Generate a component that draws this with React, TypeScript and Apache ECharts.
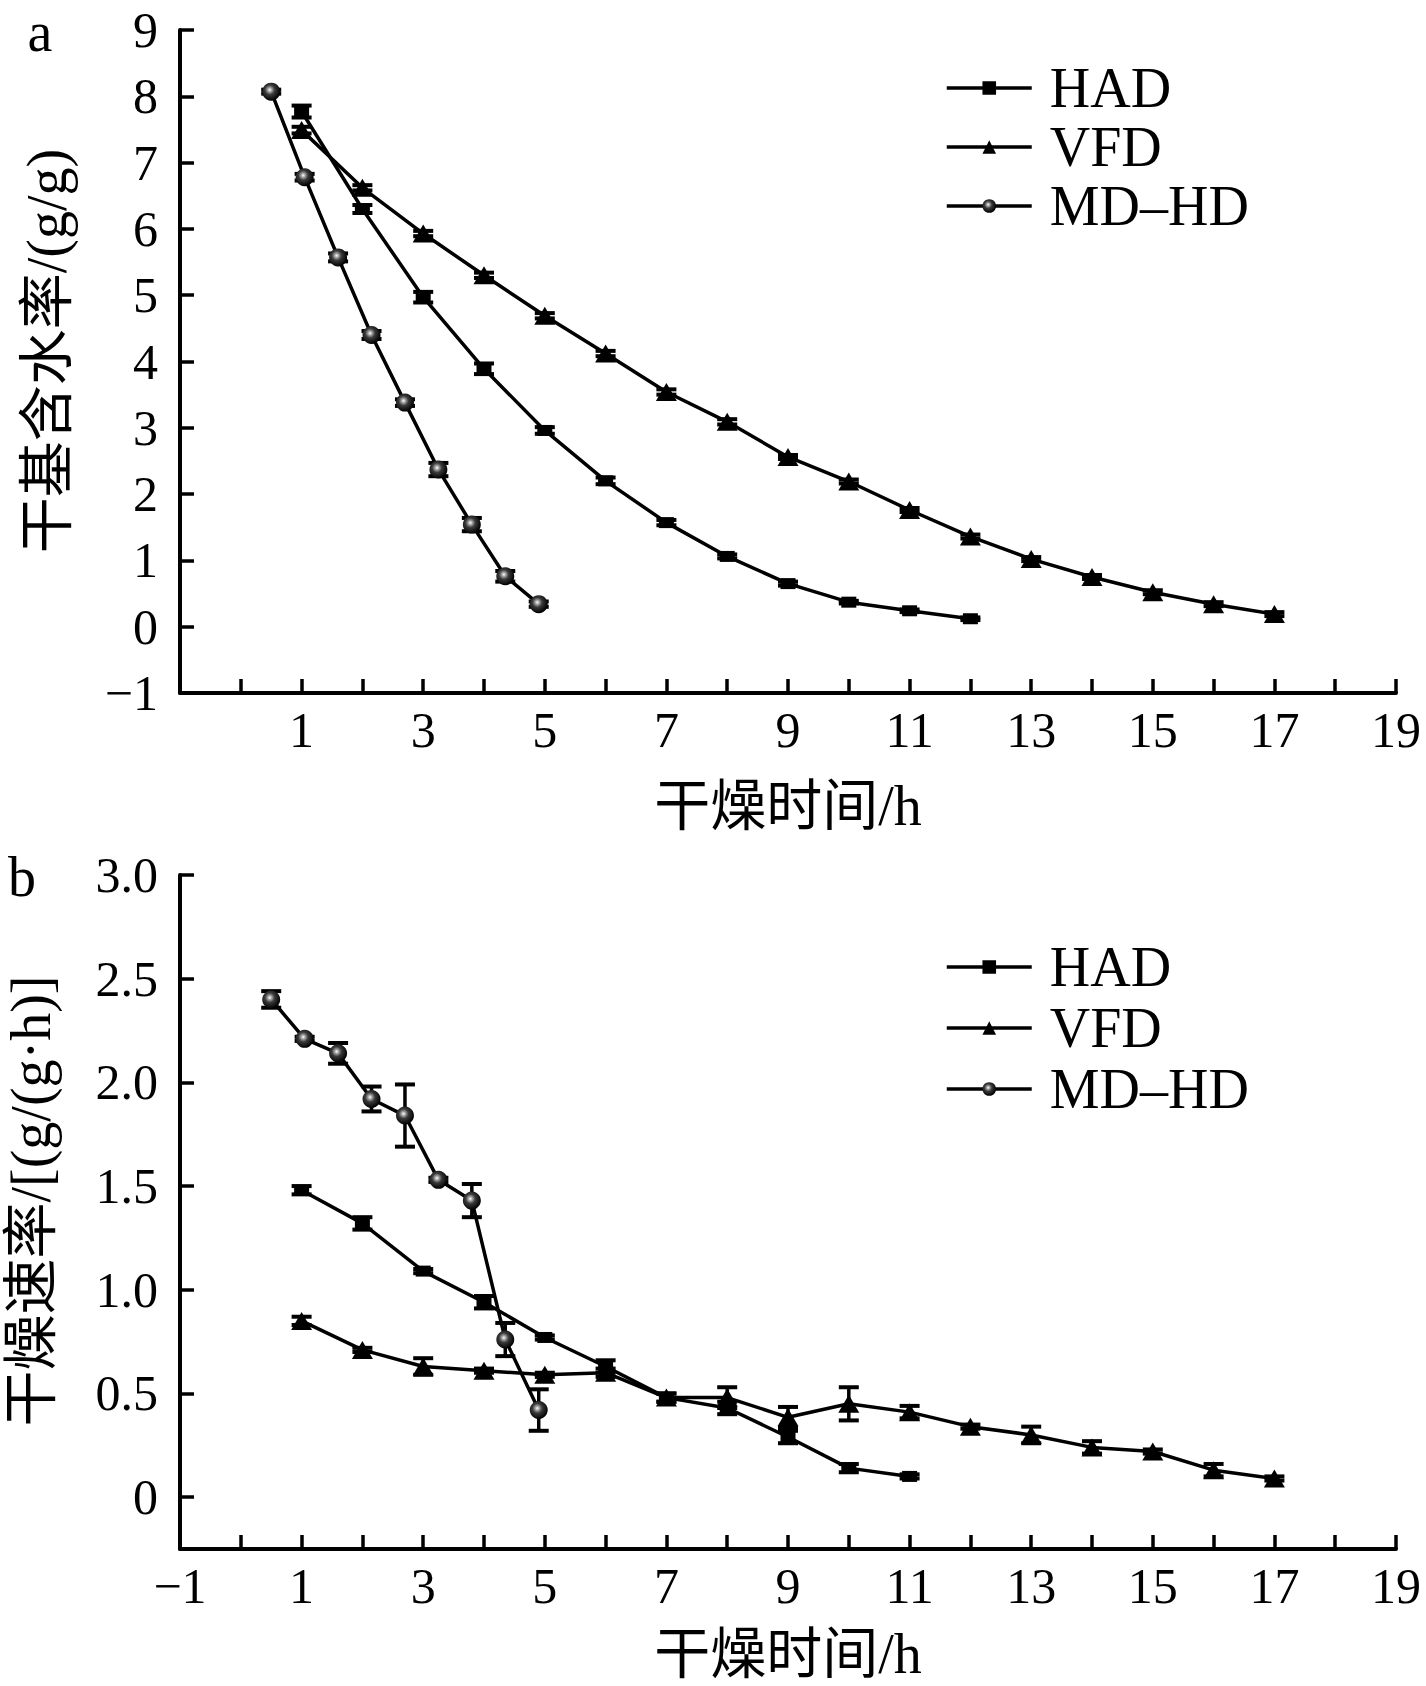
import React, { useEffect, useRef } from 'react';
import * as echarts from 'echarts';

// ---------- data (chart a: dry-basis moisture content, g/g) ----------
const HAD_A_X = [1, 2, 3, 4, 5, 6, 7, 8, 9, 10, 11, 12];
const HAD_A_Y = [7.77, 6.3, 4.97, 3.89, 2.96, 2.2, 1.57, 1.06, 0.65, 0.37, 0.24, 0.12];
const HAD_A_E = [0.09, 0.06, 0.08, 0.08, 0.05, 0.05, 0.04, 0.03, 0.03, 0.02, 0.02, 0.02];

const VFD_A_X = [1, 2, 3, 4, 5, 6, 7, 8, 9, 10, 11, 12, 13, 14, 15, 16, 17];
const VFD_A_Y = [7.49, 6.62, 5.93, 5.3, 4.69, 4.12, 3.54, 3.09, 2.56, 2.19, 1.76, 1.36, 1.02, 0.75, 0.52, 0.34, 0.19];
const VFD_A_E = [0.05, 0.04, 0.04, 0.04, 0.04, 0.04, 0.04, 0.04, 0.03, 0.03, 0.03, 0.03, 0.03, 0.03, 0.03, 0.03, 0.03];

const MD_A_X = [0.5, 1.05, 1.6, 2.15, 2.7, 3.25, 3.8, 4.35, 4.9];
const MD_A_Y = [8.07, 6.78, 5.57, 4.4, 3.38, 2.37, 1.54, 0.76, 0.34];
const MD_A_E = [0.03, 0.05, 0.06, 0.06, 0.05, 0.1, 0.1, 0.08, 0.04];

// ---------- data (chart b: drying rate, g/(g·h)) ----------
const HAD_B_X = [1, 2, 3, 4, 5, 6, 7, 8, 9, 10, 11];
const HAD_B_Y = [1.48, 1.32, 1.09, 0.94, 0.77, 0.63, 0.48, 0.43, 0.29, 0.14, 0.1];
const HAD_B_E = [0.02, 0.03, 0.01, 0.03, 0.01, 0.03, 0.02, 0.03, 0.03, 0.02, 0.01];

const VFD_B_X = [1, 2, 3, 4, 5, 6, 7, 8, 9, 10, 11, 12, 13, 14, 15, 16, 17];
const VFD_B_Y = [0.85, 0.71, 0.63, 0.61, 0.59, 0.6, 0.48, 0.48, 0.385, 0.45, 0.41, 0.34, 0.3, 0.24, 0.22, 0.13, 0.09];
const VFD_B_E = [0.02, 0.01, 0.04, 0.01, 0.01, 0.02, 0.02, 0.05, 0.05, 0.08, 0.03, 0.01, 0.04, 0.03, 0.01, 0.03, 0.01];

const MD_B_X = [0.5, 1.05, 1.6, 2.15, 2.7, 3.25, 3.8, 4.35, 4.9];
const MD_B_Y = [2.4, 2.21, 2.14, 1.92, 1.84, 1.53, 1.43, 0.76, 0.42];
const MD_B_E = [0.04, 0.01, 0.05, 0.06, 0.15, 0.01, 0.08, 0.08, 0.1];

// ---------- axes ----------
const X_LABELS_A = [1, 3, 5, 7, 9, 11, 13, 15, 17, 19];
const X_LABELS_B = [-1, 1, 3, 5, 7, 9, 11, 13, 15, 17, 19];
const Y_TICKS_B = [0, 0.5, 1.0, 1.5, 2.0, 2.5, 3.0];

const SERIES_NAMES = ['HAD', 'VFD', 'MD–HD'];

const SERIF = "'Liberation Serif', 'Times New Roman', serif";
const TITLE_FONT = "'Liberation Serif', 'Noto Sans CJK SC', serif";

const pairs = (xs: number[], ys: number[]) => xs.map((x, i) => [x, ys[i]]);
const triples = (xs: number[], ys: number[], es: number[]) => xs.map((x, i) => [x, ys[i], es[i]]);

const minus = (v: number) => (v < 0 ? '\u2212' + Math.abs(v) : String(v));

export default function App() {
  const ref = useRef<HTMLDivElement>(null);

  useEffect(() => {
    if (!ref.current) return;
    const chart = echarts.init(ref.current, undefined, { renderer: 'svg' });

    const sphere = new echarts.graphic.RadialGradient(0.42, 0.4, 0.6, [
      { offset: 0, color: '#ffffff' },
      { offset: 0.18, color: '#a8a8a8' },
      { offset: 0.45, color: '#3a3a3a' },
      { offset: 1, color: '#000' },
    ]);

    const styleOf: Record<string, any> = {
      HAD: { symbol: 'rect', symbolSize: [15, 11], color: '#000' },
      VFD: { symbol: 'triangle', symbolSize: [21, 18], color: '#000' },
      'MD–HD': { symbol: 'circle', symbolSize: 18, color: sphere },
    };

    const errRender = (_p: any, api: any) => {
      const x = api.value(0);
      const y = api.value(1);
      const e = api.value(2);
      const t = api.coord([x, y + e]);
      const b = api.coord([x, y - e]);
      const hw = 10;
      const st = { stroke: '#000', lineWidth: 4 };
      return {
        type: 'group',
        children: [
          { type: 'line', shape: { x1: t[0], y1: t[1], x2: b[0], y2: b[1] }, style: { stroke: '#000', lineWidth: 3.5 } },
          { type: 'line', shape: { x1: t[0] - hw, y1: t[1], x2: t[0] + hw, y2: t[1] }, style: st },
          { type: 'line', shape: { x1: b[0] - hw, y1: b[1], x2: b[0] + hw, y2: b[1] }, style: st },
        ],
      };
    };

    const groups = [
      { grid: 0, name: 'HAD', xs: HAD_A_X, ys: HAD_A_Y, es: HAD_A_E },
      { grid: 0, name: 'VFD', xs: VFD_A_X, ys: VFD_A_Y, es: VFD_A_E },
      { grid: 0, name: 'MD–HD', xs: MD_A_X, ys: MD_A_Y, es: MD_A_E },
      { grid: 1, name: 'HAD', xs: HAD_B_X, ys: HAD_B_Y, es: HAD_B_E },
      { grid: 1, name: 'VFD', xs: VFD_B_X, ys: VFD_B_Y, es: VFD_B_E },
      { grid: 1, name: 'MD–HD', xs: MD_B_X, ys: MD_B_Y, es: MD_B_E },
    ];

    const series: any[] = [];
    groups.forEach((g) => {
      series.push({
        type: 'custom',
        name: g.name + ' err',
        xAxisIndex: g.grid,
        yAxisIndex: g.grid,
        renderItem: errRender,
        encode: { x: 0, y: 1 },
        data: triples(g.xs, g.ys, g.es),
        z: 2,
        silent: true,
      });
    });
    groups.forEach((g) => {
      const s = styleOf[g.name];
      series.push({
        type: 'line',
        name: g.name,
        xAxisIndex: g.grid,
        yAxisIndex: g.grid,
        data: pairs(g.xs, g.ys),
        symbol: s.symbol,
        symbolSize: s.symbolSize,
        showAllSymbol: true,
        lineStyle: { color: '#000', width: 3.5 },
        itemStyle: { color: s.color, borderWidth: 0 },
        z: 3,
      });
    });

    const axisLine = { show: true, onZero: false, lineStyle: { color: '#000', width: 4 } };
    const axisTick = { show: true, inside: true, length: 14, lineStyle: { color: '#000', width: 3.5 } };
    const labelBase = { color: '#000', fontFamily: SERIF, fontSize: 50, lineHeight: 40 };

    const xAxisOf = (gridIndex: number, labels: number[]) => ({
      type: 'value',
      gridIndex,
      min: -1,
      max: 19,
      interval: 1,
      axisLine,
      axisTick,
      splitLine: { show: false },
      axisLabel: { ...labelBase, lineHeight: 50, margin: 12, customValues: labels, formatter: (v: number) => minus(v) },
    });

    const legendOf = (top: number, gap: number) => ({
      data: SERIES_NAMES,
      orient: 'vertical',
      left: 945,
      top,
      padding: 0,
      itemWidth: 85,
      itemHeight: 17,
      itemGap: gap,
      selectedMode: false,
      lineStyle: { width: 3.5, color: '#000' },
      textStyle: { color: '#000', fontFamily: SERIF, fontSize: 56, lineHeight: 56, padding: [0, 0, 0, 13] },
    });

    chart.setOption({
      animation: false,
      backgroundColor: '#fff',
      grid: [
        { left: 180, top: 30, width: 1216, height: 663 },
        { left: 180, top: 875, width: 1216, height: 674 },
      ],
      xAxis: [xAxisOf(0, X_LABELS_A), xAxisOf(1, X_LABELS_B)],
      yAxis: [
        {
          type: 'value',
          gridIndex: 0,
          min: -1,
          max: 9,
          interval: 1,
          axisLine,
          axisTick,
          splitLine: { show: false },
          axisLabel: { ...labelBase, margin: 22, formatter: (v: number) => minus(v) },
        },
        {
          type: 'value',
          gridIndex: 1,
          min: -0.25,
          max: 3,
          axisLine,
          axisTick: { ...axisTick, customValues: Y_TICKS_B },
          splitLine: { show: false },
          axisLabel: {
            ...labelBase,
            margin: 22,
            customValues: Y_TICKS_B,
            formatter: (v: number) => (v === 0 ? '0' : v.toFixed(1)),
          },
        },
      ],
      legend: [legendOf(60, 3), legendOf(939, 5)],
      series,
      graphic: [
        { type: 'text', x: 40, y: 32, style: { text: 'a', font: `56px ${SERIF}`, lineHeight: 40, fill: '#000', align: 'center', verticalAlign: 'middle' } },
        { type: 'text', x: 22, y: 877, style: { text: 'b', font: `56px ${SERIF}`, lineHeight: 50, fill: '#000', align: 'center', verticalAlign: 'middle' } },
        { type: 'text', x: 47, y: 351, rotation: Math.PI / 2, style: { text: '干基含水率/(g/g)', font: `56px ${TITLE_FONT}`, lineHeight: 56, fill: '#000', align: 'center', verticalAlign: 'middle' } },
        { type: 'text', x: 31, y: 1201, rotation: Math.PI / 2, style: { text: '干燥速率/[(g/(g·h)]', font: `56px ${TITLE_FONT}`, lineHeight: 56, fill: '#000', align: 'center', verticalAlign: 'middle' } },
        { type: 'text', x: 788, y: 806, style: { text: '干燥时间/h', font: `56px ${TITLE_FONT}`, lineHeight: 56, fill: '#000', align: 'center', verticalAlign: 'middle' } },
        { type: 'text', x: 788, y: 1654, style: { text: '干燥时间/h', font: `56px ${TITLE_FONT}`, lineHeight: 56, fill: '#000', align: 'center', verticalAlign: 'middle' } },
      ],
    });

    return () => chart.dispose();
  }, []);

  return (
    <div
      ref={ref}
      style={{ position: 'absolute', left: 0, top: 0, width: 1426, height: 1686, background: '#fff' }}
    />
  );
}
